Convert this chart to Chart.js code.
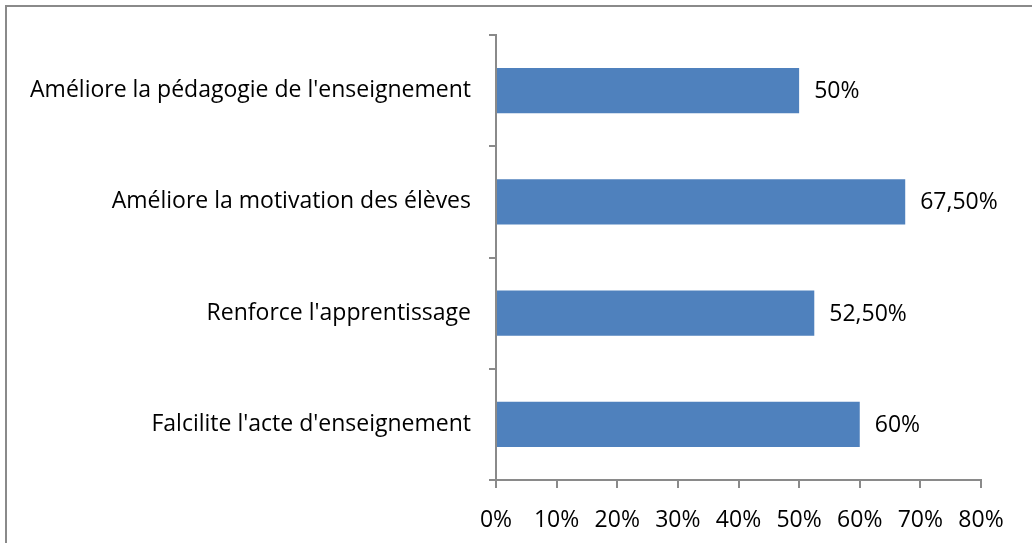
<!DOCTYPE html>
<html lang="fr">
<head>
  <meta charset="UTF-8" />
  <title>Apports</title>
  <script src="https://cdn.jsdelivr.net/npm/chart.js"></script>
  <style>
    body {
      margin: 0;
      padding: 0;
      background-color: #fff;
      overflow: hidden;
    }
    .frame {
      position: absolute;
      left: 5px;
      top: 5px;
      width: 1100px;
      height: 600px;
      border-left: 2px solid #8a8a8a;
      border-top: 2px solid #8a8a8a;
    }
    .chart-container {
      position: absolute;
      left: 0;
      top: 0;
      width: 1032px;
      height: 543px;
    }
  </style>
</head>
<body>
  <div class="frame"></div>
  <div class="chart-container">
    <canvas id="barChart"></canvas>
  </div>

  <script>
    const categories = [
      "Améliore la pédagogie de l'enseignement",
      "Améliore la motivation des élèves",
      "Renforce l'apprentissage",
      "Falcilite l'acte d'enseignement"
    ];
    const values = [50, 67.5, 52.5, 60];
    const valueLabels = ['50%', '67,50%', '52,50%', '60%'];
    const xTicks = [0, 10, 20, 30, 40, 50, 60, 70, 80];

    const fontFamily = "'Open Sans', sans-serif";
    const fontSize = 23;
    const axisColor = '#8a8a8a';

    // draws the value text just right of each bar
    const valueLabelPlugin = {
      id: 'valueLabels',
      afterDatasetsDraw(chart) {
        const ctx = chart.ctx;
        const meta = chart.getDatasetMeta(0);
        ctx.save();
        ctx.font = fontSize + 'px ' + fontFamily;
        ctx.fillStyle = '#000';
        ctx.textAlign = 'left';
        ctx.textBaseline = 'middle';
        meta.data.forEach((bar, i) => {
          ctx.fillText(valueLabels[i], bar.x + 15, bar.y + 1);
        });
        ctx.restore();
      }
    };

    const ctx = document.getElementById('barChart').getContext('2d');
    const chart = new Chart(ctx, {
      type: 'bar',
      data: {
        labels: categories,
        datasets: [{
          data: values,
          backgroundColor: '#4f81bd',
          borderWidth: 0,
          categoryPercentage: 1,
          barPercentage: 0.405
        }]
      },
      plugins: [valueLabelPlugin],
      options: {
        indexAxis: 'y',
        responsive: true,
        maintainAspectRatio: false,
        animation: false,
        layout: {
          padding: { top: 35, right: 51, left: 0, bottom: 0 }
        },
        plugins: {
          legend: { display: false },
          tooltip: { enabled: false }
        },
        scales: {
          x: {
            min: 0,
            max: 80,
            afterBuildTicks: (scale) => {
              scale.ticks = xTicks.map(v => ({ value: v }));
            },
            afterFit: (scale) => { scale.height = 63; },
            ticks: {
              callback: (v) => v + '%',
              color: '#000',
              font: { family: fontFamily, size: fontSize },
              padding: 19,
              maxRotation: 0,
              autoSkip: false
            },
            grid: {
              drawOnChartArea: false,
              drawTicks: true,
              tickLength: 8,
              color: axisColor,
              lineWidth: 2
            },
            border: { color: axisColor, width: 2 }
          },
          y: {
            afterFit: (scale) => { scale.width = 496; },
            ticks: {
              color: '#000',
              font: { family: fontFamily, size: fontSize },
              padding: 18
            },
            grid: {
              offset: true,
              drawOnChartArea: false,
              drawTicks: true,
              tickLength: 7,
              color: axisColor,
              lineWidth: 2
            },
            border: { color: axisColor, width: 2 }
          }
        }
      }
    });
  </script>
</body>
</html>
